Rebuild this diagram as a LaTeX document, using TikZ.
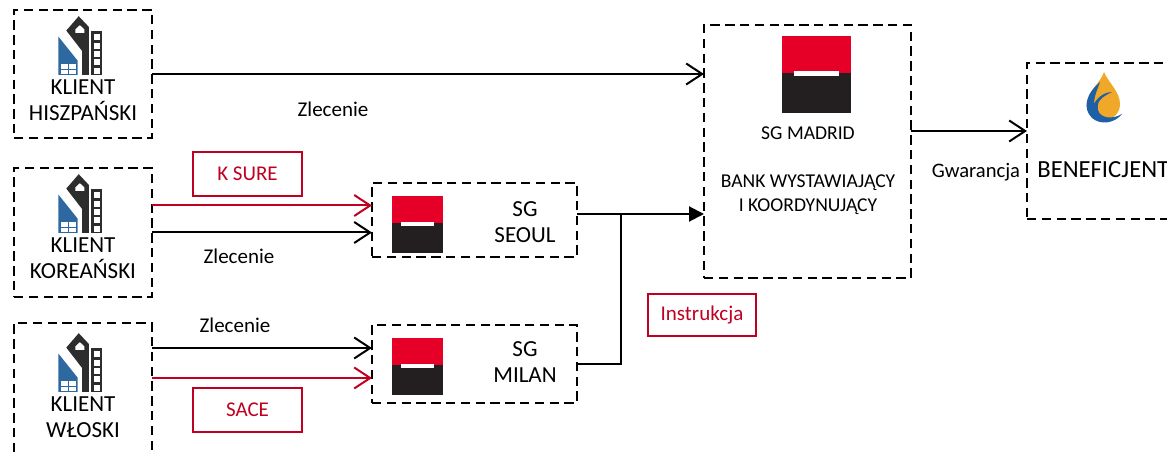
\documentclass[tikz,border=0pt]{standalone}
\usepackage{fontspec}
\setmainfont{Carlito}
\usetikzlibrary{positioning}
\usetikzlibrary{arrows.meta}
\definecolor{sgred}{RGB}{230,0,40}
\definecolor{sgblack}{RGB}{35,31,32}
\definecolor{czerwien}{RGB}{192,0,32}
\definecolor{bud}{RGB}{46,104,160}
\definecolor{budc}{RGB}{45,45,45}
\definecolor{ogien}{RGB}{240,168,40}
\definecolor{woda}{RGB}{30,95,165}

\newcommand{\sglogo}[4]{%
  \fill[sgred] (#1,#2) rectangle (#1+#3,#2+0.48*#4);
  \fill[sgblack] (#1,#2+0.48*#4) rectangle (#1+#3,#2+#4);
  \fill[white] (#1+0.17*#3,#2+0.455*#4) rectangle (#1+0.83*#3,#2+0.525*#4);
}
\newcommand{\budynek}[2]{%
  \begin{scope}[shift={(#1,#2)},xscale=1.13,yscale=1.2]
  \fill[bud] (3,18) -- (20,38) -- (20,50) -- (3,50) -- cycle;
  \fill[white] (5.5,40.5) rectangle (11.5,44.8);
  \fill[white] (12.5,40.5) rectangle (18.5,44.8);
  \fill[white] (5.5,45.8) rectangle (11.5,49.5);
  \fill[white] (12.5,45.8) rectangle (18.5,49.5);
  \fill[budc] (10,13) -- (21,1) -- (30,10) -- (30,50) -- (24,50) -- (24,30) -- cycle;
  \fill[white] (18,15) -- (18,12) -- (22,8.5) -- (26,12) -- (26,15) -- cycle;
  \fill[budc] (32,13) rectangle (42,50);
  \foreach \k in {0,...,4}
    \fill[white] (34.5,16+7*\k) rectangle (39.5,21+7*\k);
  \end{scope}
}

\begin{document}
\begin{tikzpicture}
  [x=0.5pt,y=-0.5pt,
  ramka/.style={draw=black,line width=1.3pt,dash pattern=on 4.7pt off 2.7pt,inner sep=0pt,outer sep=0pt},
  czerw/.style={draw=czerwien,line width=0.8pt,text=czerwien,inner sep=0pt,outer sep=0pt,minimum width=54.5pt,minimum height=22pt,font=\fontsize{10.5}{12}\selectfont},
  opis/.style={inner sep=0pt,font=\fontsize{10.5}{12}\selectfont},
  klient/.style={inner sep=0pt,align=center,font=\fontsize{11.5}{13}\selectfont},
  strz/.style={draw=black,line width=1pt,-{Straight Barb[length=8pt,width=10.5pt]}},
  strzc/.style={draw=czerwien,line width=1pt,-{Straight Barb[length=8pt,width=10.5pt]}}]
  \useasboundingbox (0,0) rectangle (1167,453);

  \node[ramka,minimum width=69pt,minimum height=64pt] (hiszp) at (83,74) {};
  \node[ramka,minimum width=69pt,minimum height=64.5pt] (korea) at (83,232.5) {};
  \node[ramka,minimum width=69pt,minimum height=68.5pt] (wlochy) at (83,391.5) {};
  \node[ramka,minimum width=102.5pt,minimum height=37pt] (seoul) at (474.5,220) {};
  \node[ramka,minimum width=102.5pt,minimum height=39pt] (milan) at (474.5,364) {};
  \node[ramka,minimum width=103.5pt,minimum height=126.5pt] (madryt) at (807.5,151.5) {};
  \node[ramka,minimum width=76.5pt,minimum height=78pt] (benef) at (1103.5,141) {};

  \budynek{55}{15}
  \budynek{55}{173}
  \budynek{55}{332}
  \node[klient] (t1) at (83,100) {KLIENT\\HISZPAŃSKI};
  \node[klient] (t2) at (83,258) {KLIENT\\KOREAŃSKI};
  \node[klient] (t3) at (83,417) {KLIENT\\WŁOSKI};

  \sglogo{392}{196}{51}{57}
  \sglogo{392}{338}{51}{57}
  \sglogo{782}{36}{69}{77}
  \node[klient] (t4) at (525,222) {SG\\SEOUL};
  \node[klient] (t5) at (525,362.5) {SG\\MILAN};
  \node[inner sep=0pt,font=\fontsize{9.8}{12}\selectfont] (t6) at (808,133) {SG MADRID};
  \node[inner sep=0pt,align=center,font=\fontsize{9.8}{12}\selectfont] (t7) at (808,195) {BANK WYSTAWIAJĄCY\\I KOORDYNUJĄCY};

  \fill[ogien] (1104,72) .. controls (1108,82) and (1120,92) .. (1120,104) .. controls (1120,114) and (1112,120) .. (1104,120) .. controls (1094,120) and (1088,112) .. (1088,102) .. controls (1088,90) and (1100,84) .. (1104,72);
  \fill[woda] (1100,82) .. controls (1086,94) and (1082,108) .. (1092,118) .. controls (1100,125) and (1114,124) .. (1122,114) .. controls (1112,120) and (1100,118) .. (1098,110) .. controls (1096,100) and (1104,96) .. (1112,92) .. controls (1106,92) and (1098,96) .. (1094,104) .. controls (1094,96) and (1098,88) .. (1100,82);
  \node[inner sep=0pt,anchor=west,font=\fontsize{12.3}{14}\selectfont] (t8) at (1037,170) {BENEFICJENT};

  \node[czerw] (ksure) at (247.5,174) {K SURE};
  \node[czerw] (sace) at (247.5,410) {SACE};
  \node[czerw,minimum width=54pt,minimum height=21pt] (instr) at (702,315) {Instrukcja};

  \node[opis] (z1) at (333,109) {Zlecenie};
  \node[opis] (z2) at (239,256) {Zlecenie};
  \node[opis] (z3) at (235,325) {Zlecenie};
  \node[opis,font=\fontsize{10.3}{12}\selectfont] (gwar) at (976,172) {Gwarancja};

  \coordinate (kred) at ([yshift=13.5pt]korea.east);
  \coordinate (wczarny) at ([yshift=21.75pt]wlochy.east);
  \coordinate (wred) at ([yshift=6.75pt]wlochy.east);
  \coordinate (wyj) at ([yshift=3pt]seoul.east);
  \coordinate (wezel) at ([xshift=22pt]wyj);
  \coordinate (gw) at ([yshift=10.25pt]madryt.east);

  \draw[strz] (hiszp.east) -- (madryt.west |- hiszp.east);
  \draw[strzc] (kred) -- (seoul.west |- kred);
  \draw[strz] (korea.east) -- (seoul.west |- korea.east);
  \draw[strz] (wczarny) -- (milan.west |- wczarny);
  \draw[strzc] (wred) -- (milan.west |- wred);
  \draw[line width=1pt] (milan.east) -| (wezel);
  \draw[line width=1pt,-{Triangle[length=7.5pt,width=7.5pt]}] (wyj) -- (madryt.west |- wyj);
  \draw[strz] (gw) -- (benef.west |- gw);
\end{tikzpicture}
\end{document}
